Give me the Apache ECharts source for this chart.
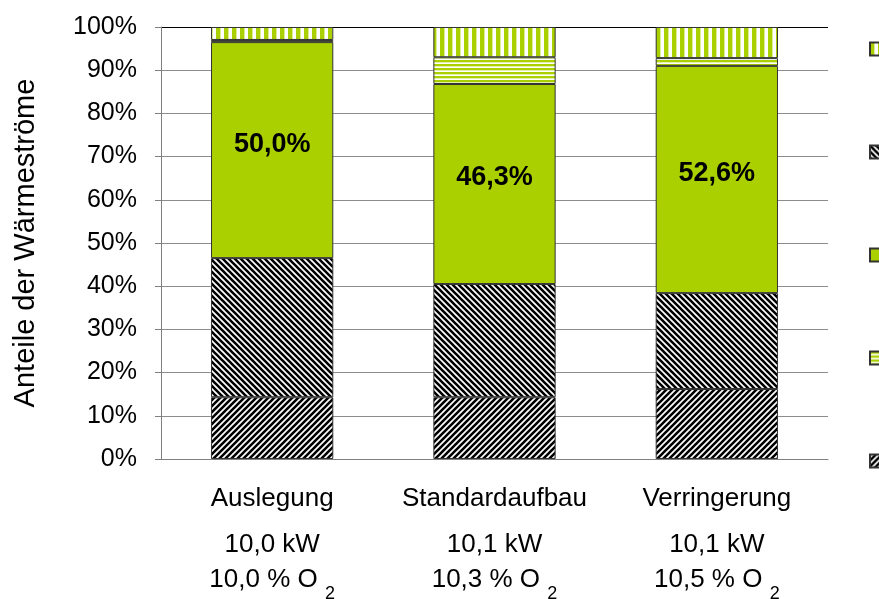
<!DOCTYPE html>
<html>
<head>
<meta charset="utf-8">
<script src="https://cdn.jsdelivr.net/npm/echarts@6/dist/echarts.min.js"></script>
<style>
  html, body { margin: 0; padding: 0; background: #fff; }
  #chart { width: 879px; height: 599px; }
</style>
</head>
<body>
<div id="chart"></div>
<script>
const categories = ['Auslegung', 'Standardaufbau', 'Verringerung']
const powerLabels = ['10,0 kW', '10,1 kW', '10,1 kW']
const o2Labels = ['10,0 % O', '10,3 % O', '10,5 % O']

// shares in percent, bottom to top
const lowerHatch = [14.3, 14.3, 16.2]
const upperHatch = [32.2, 26.2, 22.2]
const greenShare = [50.0, 46.3, 52.6]
const hStripes = [0.5, 6.2, 1.8]
const vStripes = [3.0, 7.0, 7.2]

const yTicks = [0, 10, 20, 30, 40, 50, 60, 70, 80, 90, 100]
const seriesNames = ['Reihe1', 'Reihe2', 'Reihe3', 'Reihe4', 'Reihe5']

const GREEN = '#aad000'
const FONT = 'Liberation Sans'

function tile(w, h, draw) {
  const c = document.createElement('canvas')
  c.width = w; c.height = h
  const ctx = c.getContext('2d')
  ctx.fillStyle = '#fff'
  ctx.fillRect(0, 0, w, h)
  draw(ctx)
  return { image: c, repeat: 'repeat' }
}

function diagonal(up) {
  return tile(6, 6, ctx => {
    ctx.strokeStyle = '#000'
    ctx.lineWidth = 2.6
    ctx.beginPath()
    if (up) {
      ctx.moveTo(-3, 3); ctx.lineTo(3, -3)
      ctx.moveTo(0, 6); ctx.lineTo(6, 0)
      ctx.moveTo(3, 9); ctx.lineTo(9, 3)
    } else {
      ctx.moveTo(-3, 3); ctx.lineTo(3, 9)
      ctx.moveTo(0, 0); ctx.lineTo(6, 6)
      ctx.moveTo(3, -3); ctx.lineTo(9, 3)
    }
    ctx.stroke()
  })
}

const vPattern = tile(8, 2, ctx => {
  ctx.fillStyle = GREEN; ctx.fillRect(0, 0, 4, 2)
  ctx.fillStyle = '#dcee99'; ctx.fillRect(4, 0, 1, 2)
})
const hPattern = tile(2, 4, ctx => {
  ctx.fillStyle = GREEN; ctx.fillRect(0, 0, 2, 2)
  ctx.fillStyle = '#e2f0a8'; ctx.fillRect(0, 2, 2, 1)
})

const chart = echarts.init(document.getElementById('chart'))

function bar(name, data, color, extra) {
  return Object.assign({
    name, type: 'bar', stack: 'total', data, barWidth: '55%',
    itemStyle: { color, borderColor: '#333', borderWidth: 1 }
  }, extra || {})
}

const gridColors = yTicks.map((t, i) => i === yTicks.length - 1 ? '#000' : '#8c8c8c')

chart.setOption({
  animation: false,
  textStyle: { fontFamily: FONT },
  grid: { left: 161, right: 51, top: 27, bottom: 140, outerBoundsMode: 'none' },
  legend: {
    orient: 'vertical', left: 869, top: 41, icon: 'rect', padding: 0,
    itemWidth: 12, itemHeight: 13, itemGap: 87,
    data: [seriesNames[4], seriesNames[1], seriesNames[2], seriesNames[3], seriesNames[0]],
    textStyle: { fontSize: 16, color: '#000' }
  },
  xAxis: {
    type: 'category', data: categories,
    axisLine: { lineStyle: { color: '#808080' } },
    axisTick: { length: 7, lineStyle: { color: '#808080' } },
    axisLabel: {
      margin: 20, color: '#000',
      formatter: (v, i) => `{a|${v}}\n{b|${powerLabels[i]}}\n{c|${o2Labels[i]} }{s|2}`,
      rich: {
        a: { fontSize: 26, lineHeight: 40, fontFamily: FONT },
        b: { fontSize: 26, lineHeight: 52, fontFamily: FONT },
        c: { fontSize: 26, lineHeight: 18, fontFamily: FONT },
        s: { fontSize: 18, lineHeight: 18, padding: [28, 0, 0, 0], fontFamily: FONT }
      }
    }
  },
  yAxis: {
    type: 'value', min: yTicks[0], max: yTicks[yTicks.length - 1], interval: 10,
    name: 'Anteile der Wärmeströme', nameLocation: 'middle', nameGap: 121,
    nameTextStyle: { fontSize: 29, color: '#000' },
    axisLine: { show: true, lineStyle: { color: '#808080' } },
    axisTick: { show: true, length: 6, lineStyle: { color: '#808080' } },
    axisLabel: { fontSize: 25, color: '#000', margin: 24, formatter: '{value}%' },
    splitLine: { lineStyle: { color: gridColors } }
  },
  series: [
    bar(seriesNames[0], lowerHatch, diagonal(true)),
    bar(seriesNames[1], upperHatch, diagonal(false)),
    bar(seriesNames[2], greenShare, GREEN, {
      label: {
        show: true, position: 'inside', offset: [0, -6],
        fontSize: 27, fontWeight: 'bold', color: '#000',
        formatter: p => p.value.toFixed(1).replace('.', ',') + '%'
      }
    }),
    bar(seriesNames[3], hStripes, hPattern),
    bar(seriesNames[4], vStripes, vPattern)
  ]
})
</script>
</body>
</html>
